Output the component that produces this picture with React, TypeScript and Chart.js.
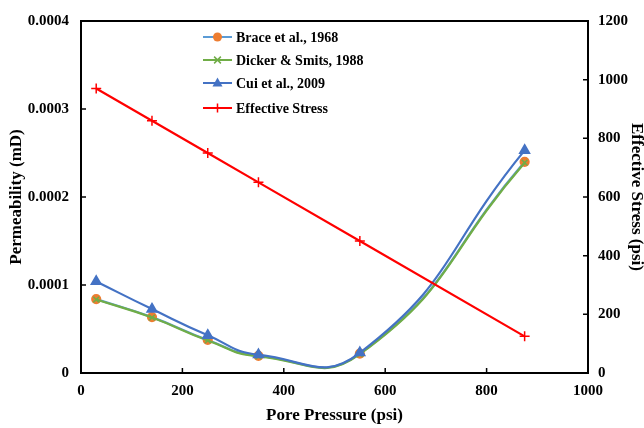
import React, { useEffect, useRef } from 'react';
import { Chart, registerables } from 'chart.js';

Chart.register(...registerables);

const porePressure = [30, 140, 250, 350, 550, 875];
const brace = [0.000084, 0.0000635, 0.0000375, 0.0000195, 0.000022, 0.00024];
const dicker = [0.0000835, 0.000063, 0.000037, 0.000019, 0.0000215, 0.000239];
const cui = [0.000104, 0.0000726, 0.0000428, 0.0000208, 0.000023, 0.000253];
const effectiveStress = [970, 860, 750, 650, 450, 125];

const seriesNames = ['Brace et al., 1968', 'Dicker & Smits, 1988', 'Cui et al., 2009', 'Effective Stress'];
const lineColors = ['#5B9BD5', '#70AD47', '#4472C4', '#FF0000'];
const markerColors = ['#ED7D31', '#70AD47', '#4472C4', '#FF0000'];
const markerStyles = ['circle', 'crossRot', 'triangle', 'cross'];

const xTitle = 'Pore Pressure (psi)';
const yTitle = 'Permeability (mD)';
const y2Title = 'Effective Stress (psi)';

const FONT = "'Liberation Serif', 'Times New Roman', serif";

function drawMarker(ctx: CanvasRenderingContext2D, style: string, x: number, y: number, r: number, color: string) {
  ctx.save();
  ctx.fillStyle = color;
  ctx.strokeStyle = color;
  ctx.lineWidth = 1.5;
  ctx.beginPath();
  if (style === 'circle') {
    ctx.arc(x, y, r, 0, Math.PI * 2);
    ctx.fill();
  } else if (style === 'triangle') {
    ctx.moveTo(x, y - r * 1.1);
    ctx.lineTo(x + r, y + r * 0.7);
    ctx.lineTo(x - r, y + r * 0.7);
    ctx.closePath();
    ctx.fill();
  } else if (style === 'cross') {
    ctx.moveTo(x - r, y);
    ctx.lineTo(x + r, y);
    ctx.moveTo(x, y - r);
    ctx.lineTo(x, y + r);
    ctx.stroke();
  } else if (style === 'crossRot') {
    const d = r * 0.75;
    ctx.moveTo(x - d, y - d);
    ctx.lineTo(x + d, y + d);
    ctx.moveTo(x + d, y - d);
    ctx.lineTo(x - d, y + d);
    ctx.stroke();
  }
  ctx.restore();
}

const framePlugin = {
  id: 'frameAndLegend',
  afterDraw(chart: any) {
    const { ctx, chartArea } = chart;
    const { left, right, top, bottom } = chartArea;
    ctx.save();
    ctx.strokeStyle = '#000';
    ctx.lineWidth = 2;
    ctx.strokeRect(left, top, right - left, bottom - top);
    // inner tick marks
    const tl = 5;
    ctx.lineWidth = 1.5;
    ctx.beginPath();
    const xs = chart.scales.x;
    xs.ticks.forEach((t: any) => {
      const px = xs.getPixelForValue(t.value);
      ctx.moveTo(px, bottom);
      ctx.lineTo(px, bottom - tl);
    });
    const ys = chart.scales.y;
    ys.ticks.forEach((t: any) => {
      const py = ys.getPixelForValue(t.value);
      ctx.moveTo(left, py);
      ctx.lineTo(left + tl, py);
    });
    const y2 = chart.scales.y2;
    y2.ticks.forEach((t: any) => {
      const py = y2.getPixelForValue(t.value);
      ctx.moveTo(right, py);
      ctx.lineTo(right - tl, py);
    });
    ctx.stroke();

    // legend
    const lx = 203;
    const rows = [37, 60, 83, 108];
    ctx.font = `bold 14px ${FONT}`;
    ctx.textBaseline = 'middle';
    ctx.textAlign = 'left';
    seriesNames.forEach((name, i) => {
      const y = rows[i];
      ctx.strokeStyle = lineColors[i];
      ctx.lineWidth = 2;
      ctx.beginPath();
      ctx.moveTo(lx, y);
      ctx.lineTo(lx + 29, y);
      ctx.stroke();
      drawMarker(ctx, markerStyles[i], lx + 14.5, y, i === 2 ? 5 : 4.5, markerColors[i]);
      ctx.fillStyle = '#000';
      ctx.fillText(name, lx + 33, y + 1);
    });
    ctx.restore();
  },
};

export default function App() {
  const ref = useRef<HTMLCanvasElement>(null);
  useEffect(() => {
    if (!ref.current) return;
    const tickFont = { family: FONT, size: 15, weight: 'bold' as const };
    const titleFont = { family: FONT, size: 17, weight: 'bold' as const };
    const plain = (v: any) => String(Math.round(Number(v)));
    const chart = new Chart(ref.current, {
      type: 'line',
      data: {
        datasets: [
          {
            label: seriesNames[0],
            data: porePressure.map((x, i) => ({ x, y: brace[i] })),
            borderColor: lineColors[0],
            backgroundColor: markerColors[0],
            pointBackgroundColor: markerColors[0],
            pointBorderColor: markerColors[0],
            pointStyle: 'circle',
            pointRadius: 4,
            borderWidth: 2.2,
            yAxisID: 'y',
            order: 3,
          },
          {
            label: seriesNames[1],
            data: porePressure.map((x, i) => ({ x, y: dicker[i] })),
            borderColor: lineColors[1],
            backgroundColor: markerColors[1],
            pointBackgroundColor: markerColors[1],
            pointBorderColor: markerColors[1],
            pointStyle: 'crossRot',
            pointRadius: 4,
            pointBorderWidth: 1.5,
            borderWidth: 2.2,
            yAxisID: 'y',
            order: 2,
          },
          {
            label: seriesNames[2],
            data: porePressure.map((x, i) => ({ x, y: cui[i] })),
            borderColor: lineColors[2],
            backgroundColor: markerColors[2],
            pointBackgroundColor: markerColors[2],
            pointBorderColor: markerColors[2],
            pointStyle: 'triangle',
            pointRadius: 5,
            borderWidth: 2.2,
            yAxisID: 'y',
            order: 1,
          },
          {
            label: seriesNames[3],
            data: porePressure.map((x, i) => ({ x, y: effectiveStress[i] })),
            borderColor: lineColors[3],
            backgroundColor: markerColors[3],
            pointBackgroundColor: markerColors[3],
            pointBorderColor: markerColors[3],
            pointStyle: 'cross',
            pointRadius: 5,
            pointBorderWidth: 1.5,
            borderWidth: 2.2,
            tension: 0,
            yAxisID: 'y2',
            order: 0,
          },
        ],
      },
      options: {
        animation: false,
        responsive: false,
        maintainAspectRatio: false,
        elements: {
          line: { tension: 0.5, capBezierPoints: false, fill: false },
        },
        layout: { padding: { top: 13, left: 0, right: 0, bottom: 0 } },
        plugins: {
          legend: { display: false },
          tooltip: { enabled: false },
        },
        scales: {
          x: {
            type: 'linear',
            min: 0,
            max: 1000,
            ticks: { stepSize: 200, font: tickFont, color: '#000', padding: 9, callback: plain },
            grid: { display: false, drawTicks: false },
            border: { display: false },
            title: { display: true, text: xTitle, font: titleFont, color: '#000', padding: { top: 4, bottom: 2 } },
            afterFit: (s: any) => { s.height = 55; },
          },
          y: {
            type: 'linear',
            position: 'left',
            min: 0,
            max: 0.0004,
            ticks: {
              stepSize: 0.0001,
              font: tickFont,
              color: '#000',
              padding: 12,
              callback: (v: any) => (v === 0 ? '0' : Number(v).toFixed(4)),
            },
            grid: { display: false, drawTicks: false },
            border: { display: false },
            title: { display: true, text: yTitle, font: titleFont, color: '#000', padding: { top: 6, bottom: 4 } },
            afterFit: (s: any) => { s.width = 81; },
          },
          y2: {
            type: 'linear',
            position: 'right',
            min: 0,
            max: 1200,
            ticks: { stepSize: 200, font: tickFont, color: '#000', padding: 10, callback: plain },
            grid: { display: false, drawTicks: false },
            border: { display: false },
            title: { display: true, text: y2Title, font: titleFont, color: '#000', padding: { top: -3, bottom: 0 } },
            afterFit: (s: any) => { s.width = 56; },
          },
        },
      },
      plugins: [framePlugin],
    });
    return () => chart.destroy();
  }, []);
  return (
    <div style={{ position: 'fixed', left: 0, top: 0, width: 644, height: 428, background: '#fff' }}>
      <canvas ref={ref} width={644} height={428} style={{ width: 644, height: 428, display: 'block' }} />
    </div>
  );
}
